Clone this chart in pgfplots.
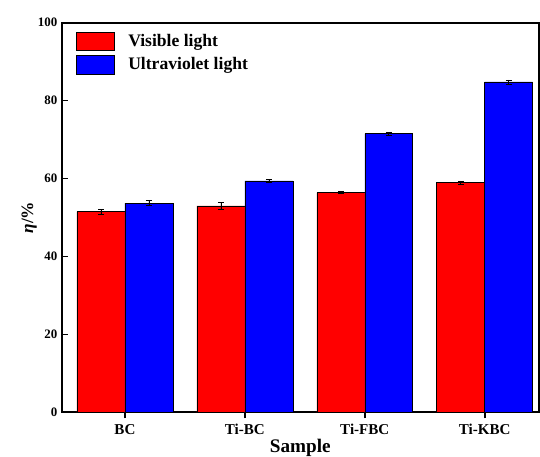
\documentclass[border=0pt]{standalone}
\usepackage{pgfplots}
\pgfplotsset{compat=1.18}
\usetikzlibrary{calc}
\usepackage{fontspec}
\setmainfont{Liberation Serif}
\begin{document}
\begin{tikzpicture}
\begin{axis}[
  scale only axis,
  width=357.75pt, height=292.5pt,
  ymin=0, ymax=100,
  xmin=-0.525, xmax=3.45,
  xtick={0,1,2,3},
  xticklabels={BC,Ti-BC,Ti-FBC,Ti-KBC},
  ytick={0,20,40,60,80,100},
  xtick pos=bottom, ytick pos=left,
  tick align=inside,
  major tick length=4.5pt,
  tick style={line width=1.3pt, black},
  axis line style={line width=1.5pt},
  /pgf/number format/assume math mode=true,
  xticklabel style={font=\fontsize{11.3pt}{13pt}\selectfont\bfseries, yshift=-1pt},
  yticklabel style={font=\fontsize{9.7pt}{11pt}\selectfont\bfseries},
  xlabel={Sample},
  xlabel style={font=\fontsize{14.4pt}{16pt}\selectfont\bfseries, yshift=4pt},
  ylabel={\textbf{\textit{η}/\%}},
  ylabel style={font=\fontsize{13pt}{15pt}\selectfont\bfseries, yshift=-6pt},
  ybar, bar width=0.4,
  legend style={draw=none, fill=none, at={(0.02,0.985)}, anchor=north west,
    font=\fontsize{13.2pt}{15pt}\selectfont\bfseries, row sep=3pt,
    /tikz/every odd column/.append style={column sep=8pt}},
  legend cell align=left,
  legend image code/.code={\draw[#1, draw=black, line width=0.4pt] (0pt,-7pt) rectangle (29pt,7pt);},
  error bars/error bar style={black, line width=0.5pt},
  error bars/error mark options={rotate=90, mark size=2.2pt, black, line width=0.5pt},
]
\addplot[fill=red, draw=black, line width=0.4pt, bar shift=-0.2,
  error bars/.cd, y dir=both, y explicit]
  coordinates {(0,51.5) +- (0,0.6) (1,53.0) +- (0,0.8) (2,56.4) +- (0,0.3) (3,59.0) +- (0,0.4)};
\addplot[fill=blue, draw=black, line width=0.4pt, bar shift=0.2,
  error bars/.cd, y dir=both, y explicit]
  coordinates {(0,53.7) +- (0,0.6) (1,59.4) +- (0,0.4) (2,71.5) +- (0,0.3) (3,84.8) +- (0,0.5)};
\legend{Visible light, Ultraviolet light}
\end{axis}
\pgfresetboundingbox
\path ($(current axis.south west)+(-46.5pt,-33pt)$) rectangle ($(current axis.north east)+(1pt,17pt)$);
\end{tikzpicture}
\end{document}
